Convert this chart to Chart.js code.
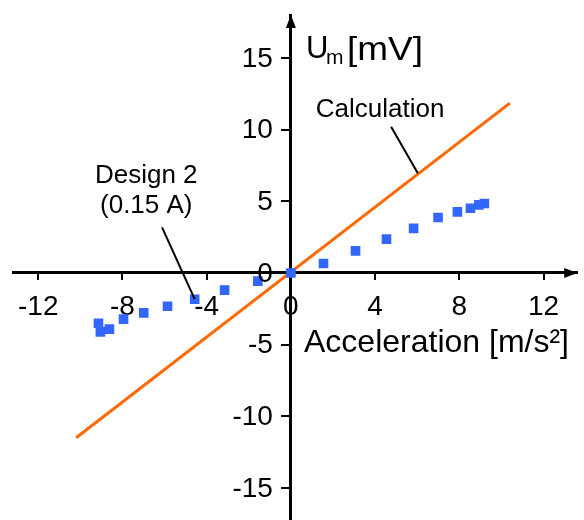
<!DOCTYPE html>
<html>
<head>
<meta charset="utf-8">
<script src="https://cdn.jsdelivr.net/npm/chart.js@4"></script>
<style>
  html, body { margin: 0; padding: 0; background: #fff; overflow: hidden; }
  canvas { display: block; }
</style>
</head>
<body>
<!-- a few px taller than the window: chart.js keeps a small bottom margin for the centred axes -->
<canvas id="chart" width="584" height="527"></canvas>
<script>
// measured points, design 2 (0.15 A)
const accel = [-9.14, -9.05, -8.62, -7.95, -6.99, -5.86, -4.57, -3.15, -1.57, 0,
               1.55, 3.07, 4.54, 5.83, 6.99, 7.91, 8.53, 8.93, 9.19];
const voltage = [-3.51, -4.11, -3.92, -3.22, -2.78, -2.32, -1.83, -1.2, -0.57, 0,
                 0.66, 1.54, 2.36, 3.11, 3.87, 4.26, 4.52, 4.75, 4.85];

// calculated line (end points)
const calcX = [-10.2, 10.4];
const calcY = [-11.5, 11.85];

const xTicks = [-12, -8, -4, 0, 4, 8, 12];
const yTicks = [-15, -10, -5, 0, 5, 10, 15];

const FONT = '"Liberation Sans", Arial, sans-serif';

// text a bit wider than the font, like the original figure
function wideText(ctx, text, x, y, sx) {
  ctx.save();
  ctx.translate(x, y);
  ctx.scale(sx, 1);
  ctx.fillText(text, 0, 0);
  ctx.restore();
}

// y labels, axis titles, arrows and call-outs
const extras = {
  id: 'extras',
  afterDraw(chart) {
    const ctx = chart.ctx;
    const xs = chart.scales.x, ys = chart.scales.y;
    const area = chart.chartArea;
    const ox = xs.getPixelForValue(0), oy = ys.getPixelForValue(0);
    ctx.save();
    ctx.fillStyle = '#000';
    ctx.strokeStyle = '#000';

    // y tick labels (chart.js puts them on the axis line when the axis is centred)
    ctx.font = '28px ' + FONT;
    ctx.textAlign = 'right';
    ctx.textBaseline = 'middle';
    ys.ticks.forEach(t => {
      ctx.fillText(String(t.value), ox - 18, ys.getPixelForValue(t.value) + 1);
    });

    // arrow heads
    ctx.beginPath();
    ctx.moveTo(area.right, oy);
    ctx.lineTo(area.right - 13, oy - 5);
    ctx.lineTo(area.right - 13, oy + 5);
    ctx.closePath();
    ctx.fill();
    ctx.beginPath();
    ctx.moveTo(ox, area.top);
    ctx.lineTo(ox - 5, area.top + 13);
    ctx.lineTo(ox + 5, area.top + 13);
    ctx.closePath();
    ctx.fill();

    // axis titles
    ctx.textBaseline = 'alphabetic';
    ctx.textAlign = 'left';
    ctx.font = '32px ' + FONT;
    ctx.fillText('Acceleration [m/s²]', 304, 352);
    ctx.font = '31px ' + FONT;
    ctx.fillText('U', 306, 58);
    ctx.font = '20px ' + FONT;
    wideText(ctx, 'm', 326, 64, 1.05);
    ctx.font = '33px ' + FONT;
    wideText(ctx, '[mV]', 347, 60, 1.12);

    // call-outs
    ctx.textAlign = 'center';
    ctx.font = '26px ' + FONT;
    ctx.fillText('Calculation', xs.getPixelForValue(4.24), ys.getPixelForValue(10.87));
    ctx.fillText('Design 2', xs.getPixelForValue(-6.87), ys.getPixelForValue(6.25));
    ctx.fillText('(0.15 A)', xs.getPixelForValue(-6.87), ys.getPixelForValue(4.15));

    ctx.lineWidth = 2;
    ctx.beginPath();
    ctx.moveTo(xs.getPixelForValue(4.76), ys.getPixelForValue(10.2));
    ctx.lineTo(xs.getPixelForValue(6.03), ys.getPixelForValue(6.95));
    ctx.moveTo(xs.getPixelForValue(-6.12), ys.getPixelForValue(3.18));
    ctx.lineTo(xs.getPixelForValue(accel[6]), ys.getPixelForValue(voltage[6]));
    ctx.stroke();
    ctx.restore();
  }
};

const axisCommon = {
  type: 'linear',
  grid: { drawOnChartArea: false, drawTicks: true, color: '#000', lineWidth: 2 },
  border: { display: true, color: '#000', width: 3 },
  ticks: { color: '#000', font: { family: FONT, size: 28 }, autoSkip: false }
};

new Chart(document.getElementById('chart'), {
  type: 'scatter',
  data: {
    datasets: [
      {
        label: 'Calculation',
        data: calcX.map((x, i) => ({ x: x, y: calcY[i] })),
        showLine: true,
        borderColor: '#ff6a00',
        borderWidth: 3,
        pointRadius: 0,
        order: 2
      },
      {
        label: 'Design 2 (0.15 A)',
        data: accel.map((x, i) => ({ x: x, y: voltage[i] })),
        showLine: false,
        pointStyle: 'rect',
        pointRadius: 6.8,
        backgroundColor: '#3366ff',
        borderColor: '#3366ff',
        borderWidth: 0,
        order: 1
      }
    ]
  },
  options: {
    responsive: false,
    animation: false,
    layout: { padding: { left: 13, right: 4, top: 15, bottom: 0 } },
    plugins: { legend: { display: false }, tooltip: { enabled: false } },
    scales: {
      x: Object.assign({}, axisCommon, {
        position: { y: 0 },
        min: -13.2, max: 13.6,
        grid: Object.assign({}, axisCommon.grid, { tickLength: 6 }),
        ticks: Object.assign({}, axisCommon.ticks, { padding: 12 }),
        afterBuildTicks: s => { s.ticks = xTicks.map(v => ({ value: v })); }
      }),
      y: Object.assign({}, axisCommon, {
        position: { x: 0 },
        min: -17.25, max: 18,
        grid: Object.assign({}, axisCommon.grid, { tickLength: 8 }),
        ticks: Object.assign({}, axisCommon.ticks, { display: false }),
        afterBuildTicks: s => { s.ticks = yTicks.map(v => ({ value: v })); }
      })
    }
  },
  plugins: [extras]
});
</script>
</body>
</html>
